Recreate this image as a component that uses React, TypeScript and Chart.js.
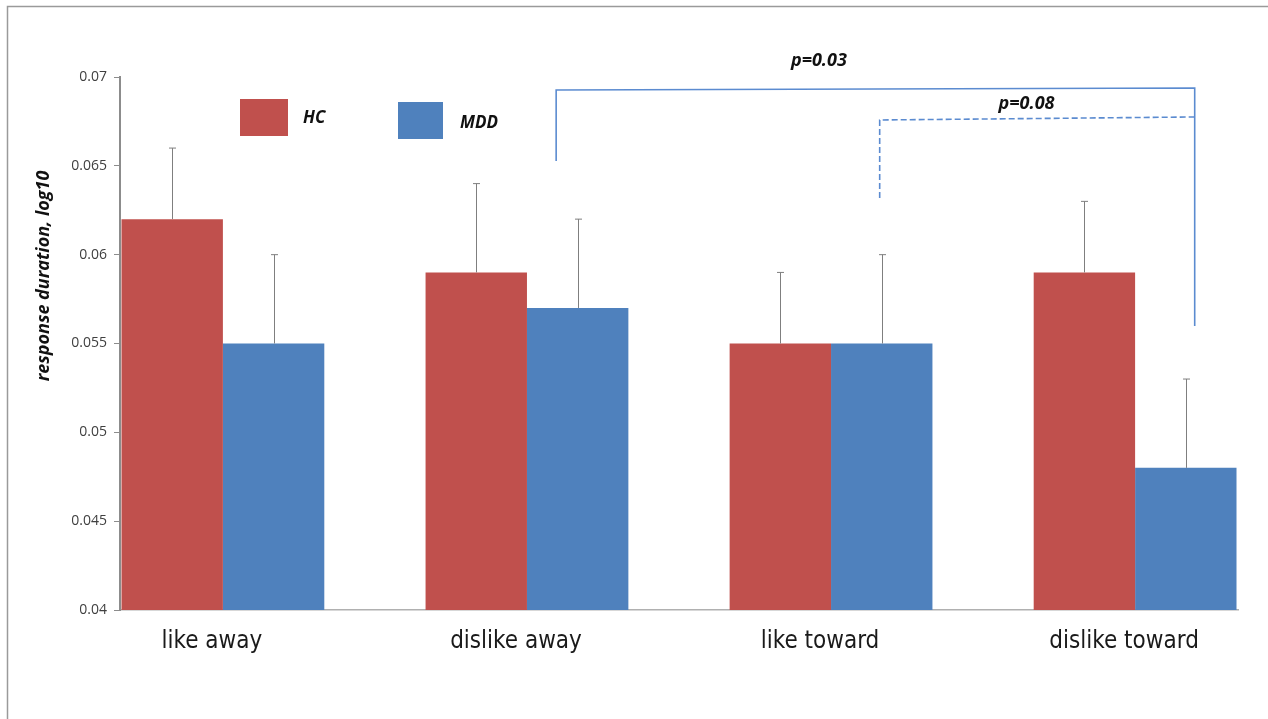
import React, { useEffect, useRef } from 'react';
import { Chart, registerables } from 'chart.js';

Chart.register(...registerables);

const categories = ['like away', 'dislike away', 'like toward', 'dislike toward'];
const seriesNames = ['HC', 'MDD'];
const hcValues = [0.062, 0.059, 0.055, 0.059];
const mddValues = [0.055, 0.057, 0.055, 0.048];
const hcErrors = [0.004, 0.005, 0.004, 0.004];
const mddErrors = [0.005, 0.005, 0.005, 0.005];
const yTicks = [0.04, 0.045, 0.05, 0.055, 0.06, 0.065, 0.07];
const yTickLabels = ['0.04', '0.045', '0.05', '0.055', '0.06', '0.065', '0.07'];

// significance brackets (x in category index units, y in data units)
const bracketLabels = ['p=0.03', 'p=0.08'];
const bracketX1 = [1.096, 2.16];
const bracketX2 = [3.196, 3.196];
const bracketTopLeft = [0.06927, 0.06758];
const bracketTopRight = [0.06938, 0.06775];
const bracketLeftEnd = [0.06527, 0.06319];
const bracketRightEnd = [0.05599, 0.06775];
const bracketLabelX = [1.96, 2.643];
const bracketLabelY = [0.0709, 0.0685];
const bracketDashed = [false, true];

const RED = '#C0504D';
const BLUE = '#4F81BD';
const LINE_BLUE = '#5b8bd0';

const errors = [hcErrors, mddErrors];

const annotPlugin = {
  id: 'annot',
  beforeDraw(chart: any) {
    const ctx = chart.ctx;
    ctx.save();
    ctx.strokeStyle = '#9a9a9a';
    ctx.lineWidth = 1.5;
    ctx.beginPath();
    ctx.moveTo(7.5, 719);
    ctx.lineTo(7.5, 6.5);
    ctx.lineTo(1268, 6.5);
    ctx.stroke();
    ctx.restore();
  },
  afterDatasetsDraw(chart: any) {
    const ctx = chart.ctx;
    const xs = chart.scales.x;
    const ys = chart.scales.y;
    ctx.save();
    // error bars
    ctx.strokeStyle = '#7f7f7f';
    ctx.lineWidth = 1;
    chart.data.datasets.forEach((ds: any, di: number) => {
      const meta = chart.getDatasetMeta(di);
      meta.data.forEach((bar: any, i: number) => {
        const v = ds.data[i].y;
        const top = ys.getPixelForValue(v + errors[di][i]);
        const x = Math.round(bar.x) + 0.5;
        ctx.beginPath();
        ctx.moveTo(x, bar.y);
        ctx.lineTo(x, top);
        ctx.moveTo(x - 3.5, top);
        ctx.lineTo(x + 3.5, top);
        ctx.stroke();
      });
    });
    // legend
    const legendBoxes = [
      { x: 240, y: 99, w: 48, h: 37, tx: 303, ty: 118 },
      { x: 398, y: 102, w: 45, h: 37, tx: 460, ty: 123 },
    ];
    chart.data.datasets.forEach((ds: any, di: number) => {
      const b = legendBoxes[di];
      ctx.fillStyle = ds.backgroundColor;
      ctx.fillRect(b.x, b.y, b.w, b.h);
      ctx.fillStyle = '#111';
      ctx.font = 'italic bold 17px "Open Sans"';
      ctx.textAlign = 'left';
      ctx.textBaseline = 'middle';
      ctx.fillText(ds.label, b.tx, b.ty);
    });
    // brackets
    ctx.strokeStyle = LINE_BLUE;
    ctx.lineWidth = 1.6;
    bracketLabels.forEach((lab, k) => {
      const x1 = xs.getPixelForValue(bracketX1[k]);
      const x2 = xs.getPixelForValue(bracketX2[k]);
      ctx.setLineDash(bracketDashed[k] ? [6, 3] : []);
      ctx.beginPath();
      ctx.moveTo(x1, ys.getPixelForValue(bracketLeftEnd[k]));
      ctx.lineTo(x1, ys.getPixelForValue(bracketTopLeft[k]));
      ctx.lineTo(x2, ys.getPixelForValue(bracketTopRight[k]));
      ctx.lineTo(x2, ys.getPixelForValue(bracketRightEnd[k]));
      ctx.stroke();
      ctx.setLineDash([]);
      ctx.fillStyle = '#111';
      ctx.font = 'italic bold 18px "Open Sans"';
      ctx.textAlign = 'center';
      ctx.textBaseline = 'middle';
      ctx.fillText(lab, xs.getPixelForValue(bracketLabelX[k]), ys.getPixelForValue(bracketLabelY[k]));
    });
    // y title
    ctx.save();
    ctx.translate(44, 276);
    ctx.rotate(-Math.PI / 2);
    ctx.fillStyle = '#111';
    ctx.font = 'italic bold 18px "Open Sans"';
    ctx.textAlign = 'center';
    ctx.textBaseline = 'middle';
    ctx.fillText('response duration, log10', 0, 0);
    ctx.restore();
    ctx.restore();
  },
};

export default function App() {
  const ref = useRef<HTMLCanvasElement>(null);
  useEffect(() => {
    const chart = new Chart(ref.current as HTMLCanvasElement, {
      type: 'bar',
      data: {
        datasets: [
          { label: seriesNames[0], data: hcValues.map((v, i) => ({ x: i, y: v })), backgroundColor: RED },
          { label: seriesNames[1], data: mddValues.map((v, i) => ({ x: i, y: v })), backgroundColor: BLUE },
        ],
      } as any,
      options: {
        responsive: false,
        animation: false,
        events: [],
        layout: { padding: { left: 0, top: 77, right: 30, bottom: 0 } },
        plugins: { legend: { display: false }, tooltip: { enabled: false } },
        datasets: { bar: { categoryPercentage: 0.667, barPercentage: 1 } },
        scales: {
          x: {
            type: 'linear',
            min: -0.3384,
            max: 3.3384,
            offset: false,
            grid: { display: false, drawTicks: false },
            border: { display: true, color: '#b0b0b0', width: 1.5 },
            afterBuildTicks: (s: any) => {
              s.ticks = categories.map((_, i) => ({ value: i }));
            },
            afterFit: (s: any) => {
              s.height = 109;
            },
            ticks: {
              autoSkip: false,
              maxRotation: 0,
              padding: 17,
              labelOffset: -11,
              color: '#1a1a1a',
              font: { family: '"DejaVu Sans Condensed", "Open Sans"', size: 24 },
              callback: (v: any) => categories[Math.round(v)],
            },
          },
          y: {
            min: 0.04,
            max: 0.07,
            afterBuildTicks: (s: any) => {
              s.ticks = yTicks.map((v) => ({ value: v }));
            },
            afterFit: (s: any) => {
              s.width = 120;
            },
            grid: { drawOnChartArea: false, drawTicks: true, tickLength: 6, color: '#8c8c8c' },
            border: { display: true, color: '#8c8c8c', width: 2 },
            ticks: {
              padding: 7,
              color: '#404040',
              font: { family: '"Open Sans"', size: 14 },
              callback: (v: any) => {
                const idx = yTicks.findIndex((t) => Math.abs(t - v) < 1e-9);
                return idx >= 0 ? yTickLabels[idx] : '';
              },
            },
          },
        },
      } as any,
      plugins: [annotPlugin],
    });
    return () => chart.destroy();
  }, []);
  return (
    <div style={{ position: 'fixed', left: 0, top: 0, width: 1268, height: 719, background: '#fff' }}>
      <canvas ref={ref} width={1268} height={719} style={{ display: 'block' }} />
    </div>
  );
}
